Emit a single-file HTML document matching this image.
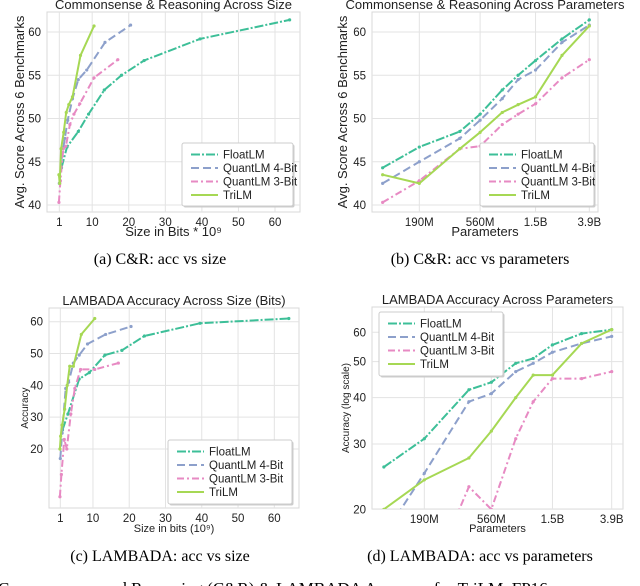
<!DOCTYPE html>
<html><head><meta charset="utf-8"><style>
html,body{margin:0;padding:0;background:#fff;width:640px;height:586px;overflow:hidden}
svg{display:block;overflow:hidden}
</style></head><body>
<svg id="fig" width="640" height="586" xmlns="http://www.w3.org/2000/svg" font-family="Liberation Sans, DejaVu Sans, sans-serif"></svg>
<script>
const params=[0.099,0.19,0.39,0.56,0.83,1.1,1.5,2.4,3.9];
const seriesNames=["FloatLM","QuantLM 4-Bit","QuantLM 3-Bit","TriLM"];
const sizeFloat=[1.6,3.1,6.2,9.0,13.3,18.0,24.2,39.5,64.0];
const sizeQ4=[1.0,1.5,2.5,3.3,4.6,6.2,8.5,13.5,20.5];
const sizeQ3=[0.9,1.3,2.1,2.8,3.9,5.0,6.6,10.5,17.0];
const sizeTri=[0.9,1.1,1.5,2.2,2.9,3.6,4.6,6.8,10.5];
const crFloat=[44.3,46.7,48.5,50.5,53.3,55.0,56.7,59.2,61.4];
const crQ4=[42.5,45.0,47.7,49.8,52.3,54.5,55.6,58.8,60.8];
const crQ3=[40.3,42.8,46.5,46.8,49.3,50.5,51.7,54.7,56.8];
const crTri=[43.5,42.5,46.5,48.4,50.7,51.6,52.5,57.3,60.7];
const lbFloat=[26,31,42,44,49.5,51,55.5,59.5,61];
const lbQ4=[17,25,39,41,47,49.5,53,56,58.5];
const lbQ3=[5,12,23,20,31,39,45,45,47];
const lbTri=[20,24,27.5,32.5,40,46,46,56,61];
const sizeTicks=[1,10,20,30,40,50,60];
const paramTicks=[0.19,0.56,1.5,3.9];
const paramTickLabels=["190M","560M","1.5B","3.9B"];
const crTicks=[40,45,50,55,60];
const lbLinTicks=[20,30,40,50,60];
const lbLogTicks=[20,30,40,50,60];

const colors=["#3dbf98","#8da0cb","#e78ac3","#a6d854"];
const dashes=["9,2,2,2","8,4","7,3,2,3",""];
const NS="http://www.w3.org/2000/svg";
const svg=document.getElementById("fig");
function mk(tag,attrs,parent,text){const e=document.createElementNS(NS,tag);for(const k in attrs)e.setAttribute(k,attrs[k]);if(text!==undefined)e.textContent=text;(parent||svg).appendChild(e);return e;}

function panel(cfg){
  const g=mk("g",{});
  
  
  const {L,R,T,B}=cfg;
  const clipId="clip-"+cfg.name;
  const cp=mk("clipPath",{id:clipId},g);mk("rect",{x:L,y:T,width:R-L,height:B-T},cp);
  const bg=mk("rect",{x:L,y:T,width:R-L,height:B-T,fill:"#fff",stroke:"#d8d8d8","stroke-width":1},g);
  
  
  cfg.xticks.forEach((v,i)=>{const x=cfg.xs(v);
    mk("line",{x1:x,x2:x,y1:T,y2:B,stroke:"#e3e3e3","stroke-width":1},g);
    const t=mk("text",{x:x,y:B+14,"font-size":11.5,"text-anchor":"middle",fill:"#222"},g,cfg.xlabels?cfg.xlabels[i]:String(v));
    
    
  });
  cfg.yticks.forEach(v=>{const y=cfg.ys(v);
    mk("line",{x1:L,x2:R,y1:y,y2:y,stroke:"#e3e3e3","stroke-width":1},g);
    const t=mk("text",{x:L-6,y:y+4,"font-size":11.5,"text-anchor":"end",fill:"#222"},g,String(v));
    
    
  });
  const lg=mk("g",{"clip-path":"url(#"+clipId+")"},g);
  cfg.series.forEach((s,i)=>{
    const pts=s.x.map((xv,j)=>cfg.xs(xv).toFixed(1)+","+cfg.ys(s.y[j]).toFixed(1)).join(" ");
    const pl=mk("polyline",{points:pts,fill:"none",stroke:colors[i],"stroke-width":2,"stroke-dasharray":dashes[i],"stroke-linejoin":"round"},lg);
    
    
    s.x.forEach((xv,j)=>{const c=mk("circle",{cx:cfg.xs(xv),cy:cfg.ys(s.y[j]),r:1.6,fill:colors[i]},lg);
      
      });
  });
  const ti=mk("text",{x:(L+R)/2,y:T-3,"font-size":13,"text-anchor":"middle",fill:"#222"},g,cfg.title);
  
  
  const xt=mk("text",{x:(L+R)/2,y:cfg.xlY,"font-size":cfg.xlSize,"text-anchor":"middle",fill:"#222"},g,cfg.xlabel);
  
  
  const yt=mk("text",{x:0,y:0,"font-size":cfg.ylSize,"text-anchor":"middle",fill:"#222",transform:`translate(${cfg.ylX},${(T+B)/2}) rotate(-90)`},g,cfg.ylabel);
  
  
  const lgd=mk("g",{},g);
  
  
  const [lx,ly,lw,lh]=cfg.legend;
  mk("rect",{x:lx+1.5,y:ly+1.5,width:lw,height:lh,fill:"#ccc",rx:2},lgd);
  mk("rect",{x:lx,y:ly,width:lw,height:lh,fill:"#fff",stroke:"#ccc",rx:2},lgd);
  seriesNames.forEach((n,i)=>{const yy=ly+11.5+i*13.5;
    mk("line",{x1:lx+9,x2:lx+36,y1:yy,y2:yy,stroke:colors[i],"stroke-width":2,"stroke-dasharray":dashes[i]},lgd);
    const t=mk("text",{x:lx+41,y:yy+4,"font-size":11.5,fill:"#222"},lgd,n);
    
    
  });
  const cap=mk("text",{x:cfg.capX,y:cfg.capY,"font-size":16,"text-anchor":"middle",fill:"#000","font-family":"Liberation Serif, serif"},g,cfg.caption);
  
  
}
const lin=(d0,d1,p0,p1)=>v=>p0+(v-d0)*(p1-p0)/(d1-d0);
const lg10=(d0,d1,p0,p1)=>v=>p0+(Math.log10(v)-Math.log10(d0))*(p1-p0)/(Math.log10(d1)-Math.log10(d0));

panel({name:"chart-cr-size",L:47,R:300,T:12,B:212,xs:lin(1,60,59.3,275),ys:lin(40,60,205,32),
  xticks:sizeTicks,yticks:crTicks,title:"Commonsense & Reasoning Across Size",xlabel:"Size in Bits * 10⁹",xlY:236,xlSize:13,
  ylabel:"Avg. Score Across 6 Benchmarks",ylX:24,ylSize:13,legend:[182,143,111,63],capX:160,capY:264,caption:"(a) C&R: acc vs size",
  series:[{x:sizeFloat,y:crFloat},{x:sizeQ4,y:crQ4},{x:sizeQ3,y:crQ3},{x:sizeTri,y:crTri}]});
panel({name:"chart-cr-params",L:372,R:598,T:12,B:212,xs:lg10(0.19,3.9,419.3,589.3),ys:lin(40,60,205,32),
  xticks:paramTicks,xlabels:paramTickLabels,yticks:crTicks,title:"Commonsense & Reasoning Across Parameters",xlabel:"Parameters",xlY:236,xlSize:13,
  ylabel:"Avg. Score Across 6 Benchmarks",ylX:347,ylSize:13,legend:[480,143,114,63],capX:480,capY:264,caption:"(b) C&R: acc vs parameters",
  series:[{x:params,y:crFloat},{x:params,y:crQ4},{x:params,y:crQ3},{x:params,y:crTri}]});
panel({name:"chart-lambada-size",L:49,R:299,T:308,B:508,xs:lin(1,60,60.3,274.3),ys:lin(20,60,449,321.7),
  xticks:sizeTicks,yticks:lbLinTicks,title:"LAMBADA Accuracy Across Size (Bits)",xlabel:"Size in bits (10⁹)",xlY:532,xlSize:11,
  ylabel:"Accuracy",ylX:28,ylSize:10,legend:[168,440,124,64],capX:160,capY:561,caption:"(c) LAMBADA: acc vs size",
  series:[{x:sizeFloat,y:lbFloat},{x:sizeQ4,y:lbQ4},{x:sizeQ3,y:lbQ3},{x:sizeTri,y:lbTri}]});
panel({name:"chart-lambada-params",L:372,R:623,T:307,B:509,xs:lg10(0.19,3.9,424.3,611.7),ys:lg10(20,60,509.3,332.3),
  xticks:paramTicks,xlabels:paramTickLabels,yticks:lbLogTicks,title:"LAMBADA Accuracy Across Parameters",xlabel:"Parameters",xlY:532,xlSize:11,
  ylabel:"Accuracy (log scale)",ylX:349,ylSize:10,legend:[379,312,124,64],capX:480,capY:561,caption:"(d) LAMBADA: acc vs parameters",
  series:[{x:params,y:lbFloat},{x:params,y:lbQ4},{x:params,y:lbQ3},{x:params,y:lbTri}]});
const fc=mk("text",{x:-2,y:594,"font-size":17,fill:"#000","font-family":"Liberation Serif, serif"},svg,"Commonsense and Reasoning (C&R) & LAMBADA Accuracy for TriLM, FP16");


</script>
</body></html>
